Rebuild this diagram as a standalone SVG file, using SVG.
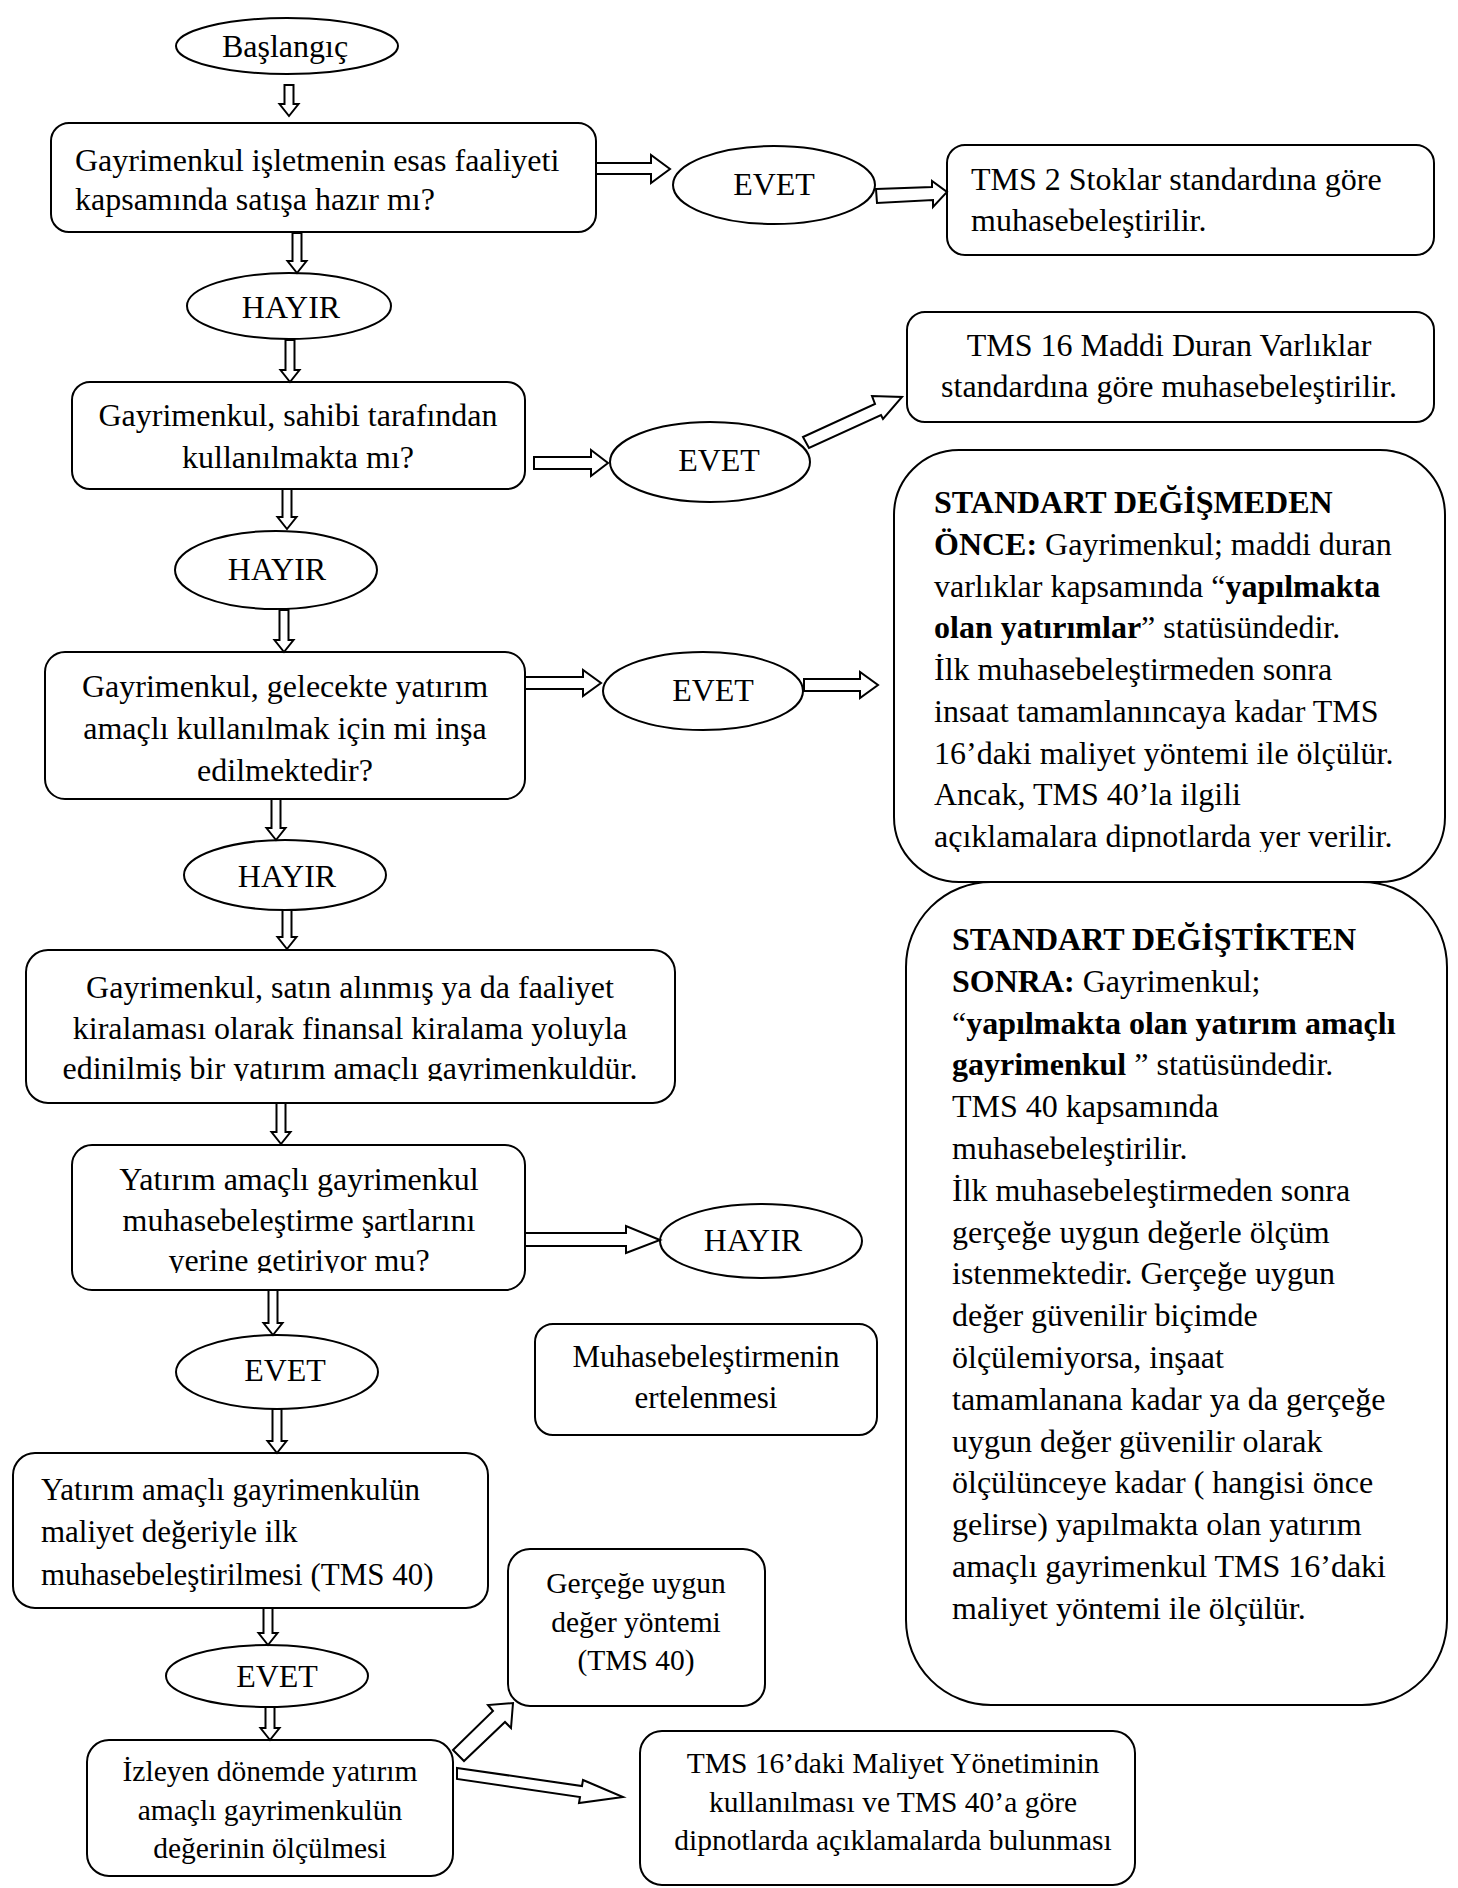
<svg xmlns="http://www.w3.org/2000/svg" width="1458" height="1888" viewBox="0 0 1458 1888">
<style>
.box{fill:#fff;stroke:#000;stroke-width:2}
.arr{fill:#fff;stroke:#000;stroke-width:2;stroke-linejoin:miter}
text{font-family:"Liberation Serif","Times New Roman",serif;font-size:32px;fill:#000}
.c{text-anchor:middle}
.s{font-size:29.5px}
.b{font-weight:bold}
</style>
<defs>
<clipPath id="clip3"><rect x="40" y="640" width="500" height="142"/></clipPath>
<clipPath id="clip4"><rect x="20" y="940" width="660" height="141"/></clipPath>
<clipPath id="clip5"><rect x="60" y="1140" width="480" height="133"/></clipPath>
<clipPath id="clipB1"><rect x="890" y="450" width="560" height="402"/></clipPath>
</defs>
<rect width="1458" height="1888" fill="#fff"/>

<g id="start">
<ellipse class="box" cx="287" cy="46" rx="111" ry="28"/>
<text class="c" x="285" y="57">Başlangıç</text>
</g>

<g id="q1">
<rect class="box" x="51" y="123" width="545" height="109" rx="18"/>
<text x="75" y="171">Gayrimenkul işletmenin esas faaliyeti</text>
<text x="75" y="210">kapsamında satışa hazır mı?</text>
</g>

<g id="evet1">
<ellipse class="box" cx="774" cy="185" rx="101" ry="39"/>
<text class="c" x="774" y="195">EVET</text>
</g>

<g id="tms2">
<rect class="box" x="947" y="145" width="487" height="110" rx="18"/>
<text x="971" y="190">TMS 2 Stoklar standardına göre</text>
<text x="971" y="231">muhasebeleştirilir.</text>
</g>

<g id="hayir1">
<ellipse class="box" cx="289" cy="306" rx="102" ry="33"/>
<text class="c" x="291" y="318">HAYIR</text>
</g>

<g id="q2">
<rect class="box" x="72" y="382" width="453" height="107" rx="18"/>
<text class="c" x="298" y="426">Gayrimenkul, sahibi tarafından</text>
<text class="c" x="298" y="468">kullanılmakta mı?</text>
</g>

<g id="evet2">
<ellipse class="box" cx="710" cy="462" rx="100" ry="40"/>
<text class="c" x="719" y="471">EVET</text>
</g>

<g id="tms16">
<rect class="box" x="907" y="312" width="527" height="110" rx="18"/>
<text class="c" x="1169" y="356">TMS 16 Maddi Duran Varlıklar</text>
<text class="c" x="1169" y="397">standardına göre muhasebeleştirilir.</text>
</g>

<g id="hayir2">
<ellipse class="box" cx="276" cy="570" rx="101" ry="39"/>
<text class="c" x="277" y="580">HAYIR</text>
</g>

<g id="q3">
<rect class="box" x="45" y="652" width="480" height="147" rx="20"/>
<text class="c" x="285" y="697">Gayrimenkul, gelecekte yatırım</text>
<text class="c" x="285" y="739">amaçlı kullanılmak için mi inşa</text>
<text class="c" x="285" y="781" clip-path="url(#clip3)">edilmektedir?</text>
</g>

<g id="evet3">
<ellipse class="box" cx="703" cy="691" rx="100" ry="39"/>
<text class="c" x="713" y="701">EVET</text>
</g>

<g id="before">
<rect class="box" x="894" y="450" width="551" height="432" rx="65"/>
<text x="934" y="513"><tspan class="b">STANDART DEĞİŞMEDEN</tspan></text>
<text x="934" y="555"><tspan class="b">ÖNCE:</tspan> Gayrimenkul; maddi duran</text>
<text x="934" y="597">varlıklar kapsamında “<tspan class="b">yapılmakta</tspan></text>
<text x="934" y="638"><tspan class="b">olan yatırımlar</tspan>” statüsündedir.</text>
<text x="934" y="680">İlk muhasebeleştirmeden sonra</text>
<text x="934" y="722">insaat tamamlanıncaya kadar TMS</text>
<text x="934" y="764">16’daki maliyet yöntemi ile ölçülür.</text>
<text x="934" y="805">Ancak, TMS 40’la ilgili</text>
<text x="934" y="847" clip-path="url(#clipB1)">açıklamalara dipnotlarda yer verilir.</text>
</g>

<g id="after">
<rect class="box" x="906" y="882" width="541" height="823" rx="85"/>
<text x="952" y="950"><tspan class="b">STANDART DEĞİŞTİKTEN</tspan></text>
<text x="952" y="992"><tspan class="b">SONRA:</tspan> Gayrimenkul;</text>
<text x="952" y="1034">“<tspan class="b">yapılmakta olan yatırım amaçlı</tspan></text>
<text x="952" y="1075"><tspan class="b">gayrimenkul </tspan>” statüsündedir.</text>
<text x="952" y="1117">TMS 40 kapsamında</text>
<text x="952" y="1159">muhasebeleştirilir.</text>
<text x="952" y="1201">İlk muhasebeleştirmeden sonra</text>
<text x="952" y="1243">gerçeğe uygun değerle ölçüm</text>
<text x="952" y="1284">istenmektedir. Gerçeğe uygun</text>
<text x="952" y="1326">değer güvenilir biçimde</text>
<text x="952" y="1368">ölçülemiyorsa, inşaat</text>
<text x="952" y="1410">tamamlanana kadar ya da gerçeğe</text>
<text x="952" y="1452">uygun değer güvenilir olarak</text>
<text x="952" y="1493">ölçülünceye kadar ( hangisi önce</text>
<text x="952" y="1535">gelirse) yapılmakta olan yatırım</text>
<text x="952" y="1577">amaçlı gayrimenkul TMS 16’daki</text>
<text x="952" y="1619">maliyet yöntemi ile ölçülür.</text>
</g>

<g id="hayir3">
<ellipse class="box" cx="285" cy="875" rx="101" ry="35"/>
<text class="c" x="287" y="887">HAYIR</text>
</g>

<g id="q4">
<rect class="box" x="26" y="950" width="649" height="153" rx="22"/>
<text class="c" x="350" y="998">Gayrimenkul, satın alınmış ya da faaliyet</text>
<text class="c" x="350" y="1039">kiralaması olarak finansal kiralama yoluyla</text>
<text class="c" x="350" y="1079" clip-path="url(#clip4)">edinilmiş bir yatırım amaçlı gayrimenkuldür.</text>
</g>

<g id="q5">
<rect class="box" x="72" y="1145" width="453" height="145" rx="20"/>
<text class="c" x="299" y="1190">Yatırım amaçlı gayrimenkul</text>
<text class="c" x="299" y="1231">muhasebeleştirme şartlarını</text>
<text class="c" x="299" y="1271" clip-path="url(#clip5)">yerine getiriyor mu?</text>
</g>

<g id="hayir4">
<ellipse class="box" cx="761" cy="1241" rx="101" ry="37"/>
<text class="c" x="753" y="1251">HAYIR</text>
</g>

<g id="evet4">
<ellipse class="box" cx="277" cy="1372" rx="101" ry="37"/>
<text class="c" x="285" y="1381">EVET</text>
</g>

<g id="defer">
<rect class="box" x="535" y="1324" width="342" height="111" rx="18"/>
<text class="c" x="706" y="1367" style="font-size:31px">Muhasebeleştirmenin</text>
<text class="c" x="706" y="1408" style="font-size:31px">ertelenmesi</text>
</g>

<g id="initial">
<rect class="box" x="13" y="1453" width="475" height="155" rx="22"/>
<text x="41" y="1500" style="font-size:31px">Yatırım amaçlı gayrimenkulün</text>
<text x="41" y="1542" style="font-size:31px">maliyet değeriyle ilk</text>
<text x="41" y="1585" style="font-size:31px">muhasebeleştirilmesi (TMS 40)</text>
</g>

<g id="evet5">
<ellipse class="box" cx="267" cy="1676" rx="101" ry="31"/>
<text class="c" x="277" y="1687">EVET</text>
</g>

<g id="fairvalue">
<rect class="box" x="508" y="1549" width="257" height="157" rx="22"/>
<text class="c s" x="636" y="1593">Gerçeğe uygun</text>
<text class="c s" x="636" y="1632">değer yöntemi</text>
<text class="c s" x="636" y="1670">(TMS 40)</text>
</g>

<g id="subsequent">
<rect class="box" x="87" y="1740" width="366" height="136" rx="22"/>
<text class="c s" x="270" y="1781">İzleyen dönemde yatırım</text>
<text class="c s" x="270" y="1820">amaçlı gayrimenkulün</text>
<text class="c s" x="270" y="1858">değerinin ölçülmesi</text>
</g>

<g id="costmodel">
<rect class="box" x="640" y="1731" width="495" height="154" rx="22"/>
<text class="c s" x="893" y="1773">TMS 16’daki Maliyet Yönetiminin</text>
<text class="c s" x="893" y="1812">kullanılması ve TMS 40’a göre</text>
<text class="c s" x="893" y="1850">dipnotlarda açıklamalarda bulunması</text>
</g>

<g id="connectors">
<polygon class="arr" points="284.5,85 293.5,85 293.5,104 298.5,104 289,116 279.5,104 284.5,104"/>
<polygon class="arr" points="292.5,233 301.5,233 301.5,261 306.5,261 297,273 287.5,261 292.5,261"/>
<polygon class="arr" points="285.5,340 294.5,340 294.5,370 299.5,370 290,382 280.5,370 285.5,370"/>
<polygon class="arr" points="282.5,489 291.5,489 291.5,517 296.5,517 287,529 277.5,517 282.5,517"/>
<polygon class="arr" points="279.5,610 288.5,610 288.5,640 293.5,640 284,652 274.5,640 279.5,640"/>
<polygon class="arr" points="271.5,799 280.5,799 280.5,828 285.5,828 276,840 266.5,828 271.5,828"/>
<polygon class="arr" points="282.5,910 291.5,910 291.5,937 296.5,937 287,949 277.5,937 282.5,937"/>
<polygon class="arr" points="276.5,1103 285.5,1103 285.5,1132 290.5,1132 281,1144 271.5,1132 276.5,1132"/>
<polygon class="arr" points="268.5,1290 277.5,1290 277.5,1323 282.5,1323 273,1335 263.5,1323 268.5,1323"/>
<polygon class="arr" points="272.5,1409 281.5,1409 281.5,1441 286.5,1441 277,1453 267.5,1441 272.5,1441"/>
<polygon class="arr" points="263.5,1608 272.5,1608 272.5,1633 277.5,1633 268,1645 258.5,1633 263.5,1633"/>
<polygon class="arr" points="265.5,1707 274.5,1707 274.5,1728 279.5,1728 270,1740 260.5,1728 265.5,1728"/>
<polygon class="arr" points="596,163 651,163 651,155 670,169 651,183 651,174 596,174"/>
<polygon class="arr" points="876,189 932,187 932,181 947,192 933,207 933,200 877,203"/>
<polygon class="arr" points="534,457 591,457 591,450 608,463 591,476 591,469 534,469"/>
<polygon class="arr" points="803,437 875,404 872,396 902,397 883,419 881,415 809,448"/>
<polygon class="arr" points="525,677 583,677 583,670 601,683 583,696 583,689 525,689"/>
<polygon class="arr" points="804,679 860,679 860,672 878,685 860,698 860,691 804,691"/>
<polygon class="arr" points="525,1233 626,1233 626,1226 660,1240 626,1253 626,1246 525,1246"/>
<polygon class="arr" points="453,1750 493,1711 488,1705 513,1703 511,1728 505,1722 464,1761"/>
<polygon class="arr" points="457,1768 582,1786 583,1780 623,1797 579,1803 580,1797 457,1779"/>
</g>
</svg>
